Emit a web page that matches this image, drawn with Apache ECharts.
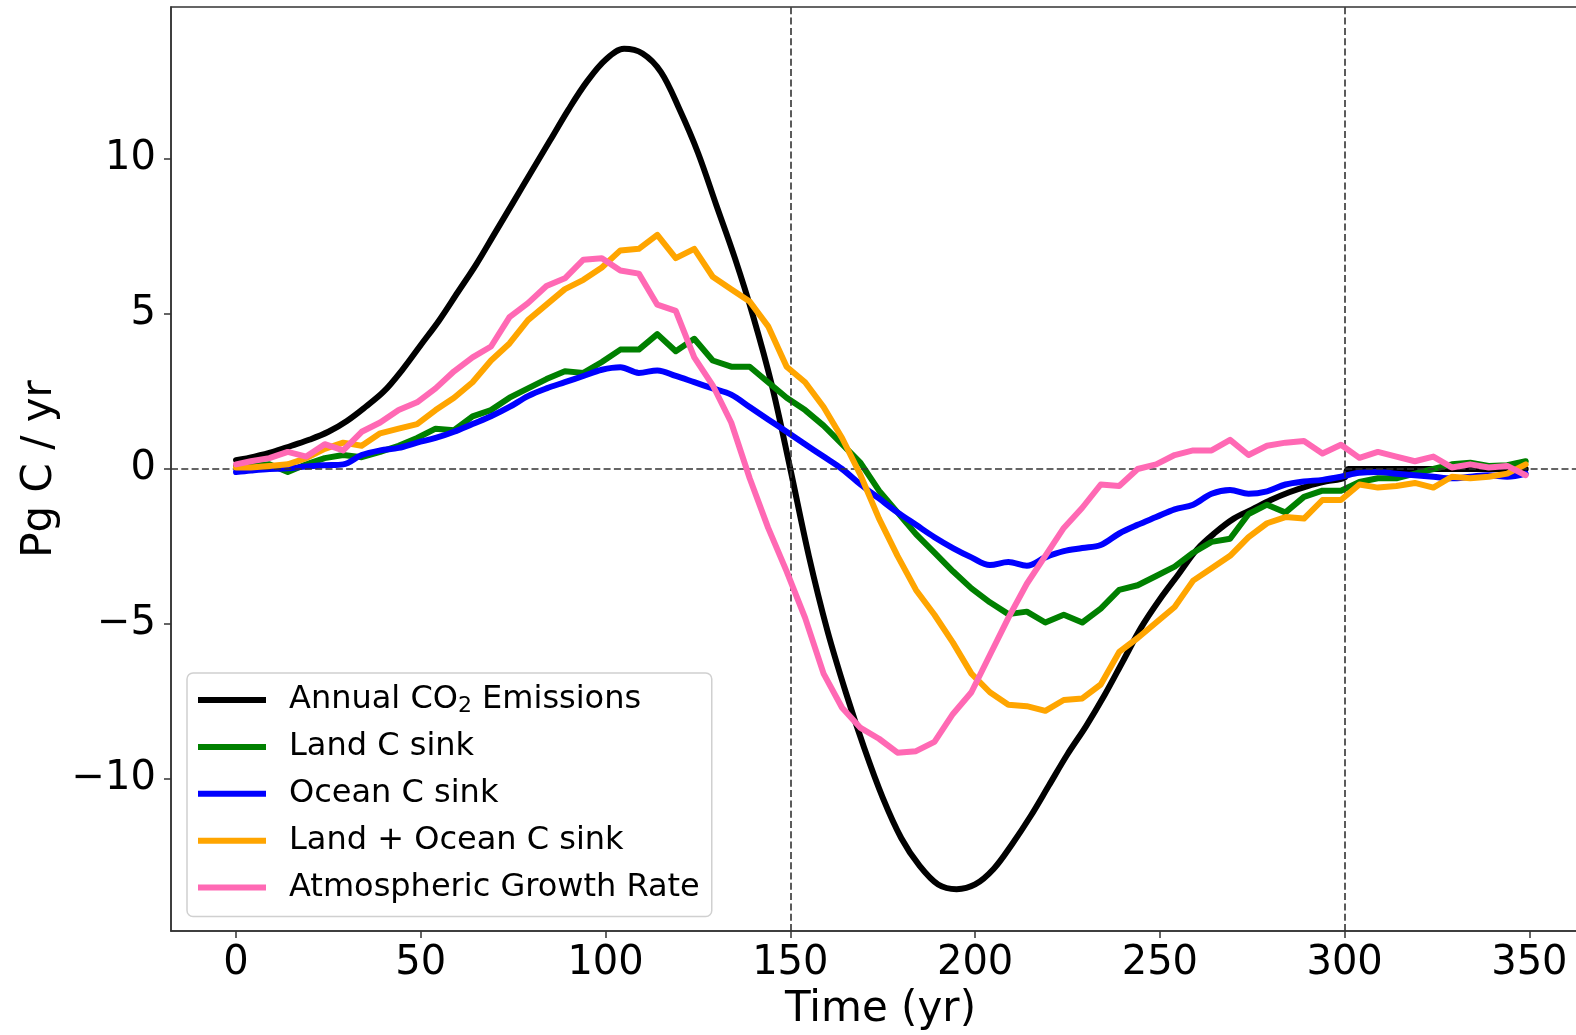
<!DOCTYPE html>
<html>
<head>
<meta charset="utf-8">
<title>Carbon fluxes</title>
<script src="https://cdn.jsdelivr.net/npm/echarts@6/dist/echarts.min.js"></script>
<style>
  html, body { margin: 0; padding: 0; background: #fff; }
  #chart { width: 1576px; height: 1035px; }
</style>
</head>
<body>
<div id="chart"></div>
<script>
// Sample years for the sink / growth-rate series
const years = [0,4,9,14,19,24,29,34,39,44,49,54,59,64,69,74,79,84,89,94,99,104,109,114,119,124,129,134,139,144,149,154,159,164,169,174,179,184,189,194,199,204,209,214,219,224,229,234,239,244,249,254,259,264,269,274,279,284,289,294,299,304,309,314,319,324,329,334,339,344,349];

// Annual CO2 emissions (smooth pulse, zero after year 300)
const emissionYears = [0,5,10,15,20,25,30,35,40,45,50,55,60,65,70,75,80,85,90,95,100,105,110,115,120,125,130,135,140,145,150,155,160,165,170,175,180,185,190,195,200,205,210,215,220,225,230,235,240,245,250,255,260,265,270,275,280,285,290,295,300,301,349];
const emissions = [0.28,0.4,0.55,0.75,0.95,1.2,1.55,2.0,2.5,3.2,4.0,4.8,5.7,6.6,7.6,8.6,9.6,10.6,11.6,12.5,13.2,13.55,13.4,12.8,11.6,10.2,8.5,6.8,4.9,2.7,0.0,-2.8,-5.2,-7.2,-9.0,-10.6,-11.9,-12.8,-13.4,-13.55,-13.4,-12.9,-12.1,-11.2,-10.2,-9.2,-8.3,-7.3,-6.2,-5.1,-4.2,-3.4,-2.6,-2.05,-1.6,-1.3,-1.0,-0.75,-0.55,-0.4,-0.28,0,0];

const landSink = [0.1,0.1,0.15,-0.1,0.15,0.35,0.45,0.38,0.55,0.75,1.0,1.3,1.25,1.7,1.9,2.3,2.6,2.9,3.15,3.1,3.45,3.85,3.85,4.35,3.8,4.2,3.5,3.3,3.3,2.8,2.3,1.9,1.4,0.8,0.2,-0.7,-1.4,-2.1,-2.7,-3.3,-3.85,-4.3,-4.68,-4.6,-4.95,-4.7,-4.95,-4.5,-3.9,-3.75,-3.45,-3.15,-2.7,-2.35,-2.25,-1.45,-1.15,-1.4,-0.9,-0.7,-0.7,-0.42,-0.3,-0.3,-0.15,0.0,0.15,0.2,0.1,0.12,0.25];

const oceanSink = [-0.1,-0.05,0.0,0.02,0.08,0.12,0.15,0.45,0.6,0.68,0.85,1.0,1.2,1.45,1.7,2.0,2.35,2.6,2.8,3.0,3.2,3.28,3.1,3.18,3.0,2.8,2.6,2.4,2.0,1.6,1.2,0.8,0.4,0.0,-0.5,-0.95,-1.4,-1.8,-2.2,-2.55,-2.85,-3.1,-3.0,-3.12,-2.85,-2.65,-2.55,-2.45,-2.08,-1.8,-1.55,-1.3,-1.15,-0.8,-0.68,-0.8,-0.72,-0.5,-0.4,-0.35,-0.25,-0.12,-0.1,-0.15,-0.2,-0.25,-0.3,-0.25,-0.2,-0.25,-0.15];

const totalSink = [0.05,0.05,0.1,0.15,0.35,0.65,0.85,0.75,1.15,1.3,1.45,1.9,2.3,2.8,3.5,4.05,4.8,5.3,5.8,6.1,6.5,7.05,7.1,7.55,6.8,7.1,6.2,5.8,5.4,4.6,3.3,2.8,2.0,1.0,-0.2,-1.6,-2.8,-3.9,-4.7,-5.6,-6.6,-7.2,-7.6,-7.65,-7.8,-7.45,-7.4,-6.95,-5.9,-5.45,-4.95,-4.45,-3.6,-3.2,-2.8,-2.2,-1.75,-1.55,-1.6,-1.0,-1.0,-0.5,-0.6,-0.55,-0.45,-0.6,-0.25,-0.3,-0.25,-0.15,0.15];

const atmGrowth = [0.15,0.25,0.35,0.55,0.4,0.8,0.6,1.2,1.5,1.9,2.15,2.6,3.15,3.6,3.95,4.9,5.35,5.9,6.15,6.75,6.8,6.4,6.3,5.3,5.1,3.6,2.7,1.5,-0.3,-1.9,-3.3,-4.8,-6.6,-7.7,-8.35,-8.7,-9.15,-9.1,-8.8,-7.9,-7.2,-6.0,-4.8,-3.7,-2.8,-1.9,-1.25,-0.5,-0.55,0.0,0.15,0.45,0.6,0.6,0.94,0.45,0.75,0.85,0.9,0.5,0.78,0.36,0.55,0.4,0.25,0.4,0.05,0.15,0.05,0.1,-0.2];

// Tick positions and reference lines
const xTicks = [0,50,100,150,200,250,300,350];
const yTicks = [-10,-5,0,5,10];
const refYears = [150,300];

const seriesNames = ['Annual CO2 Emissions','Land C sink','Ocean C sink','Land + Ocean C sink','Atmospheric Growth Rate'];
const seriesColors = ['#000000','#008000','#0000ff','#ffa500','#ff69b4'];

function pairs(xs, ys) { return xs.map((x, i) => [x, ys[i]]); }
function fmt(v) { return v < 0 ? '\u2212' + Math.abs(v) : String(v); }

const font = 'DejaVu Sans';
const chart = echarts.init(document.getElementById('chart'), null, { renderer: 'canvas' });

function lineSeries(idx, data, smooth) {
  return {
    name: seriesNames[idx],
    type: 'line',
    data: data,
    showSymbol: false,
    symbol: 'none',
    smooth: smooth ? 0.35 : false,
    lineStyle: { color: seriesColors[idx], width: 6, join: 'round', cap: 'round' },
    itemStyle: { color: seriesColors[idx] },
    z: 2 + idx,
    silent: true,
    animation: false
  };
}

const option = {
  backgroundColor: '#ffffff',
  animation: false,
  grid: {
    left: 171, top: 7, right: -14, bottom: 104,
    outerBoundsMode: 'none',
    containLabel: false,
    show: true, borderColor: '#333', borderWidth: 1.5, backgroundColor: 'transparent'
  },
  xAxis: {
    type: 'value', min: -17.6, max: 366.4,
    name: 'Time (yr)', nameLocation: 'middle', nameGap: 58,
    nameTextStyle: { fontFamily: font, fontSize: 42, color: '#000' },
    axisLine: { show: true, onZero: false, lineStyle: { color: '#333', width: 1.5 } },
    axisTick: { show: true, length: 7, customValues: xTicks, lineStyle: { color: '#333', width: 1.5 } },
    axisLabel: { customValues: xTicks, fontFamily: font, fontSize: 40, color: '#000', margin: 13, formatter: fmt },
    splitLine: { show: false }
  },
  yAxis: {
    type: 'value', min: -14.9, max: 14.9,
    name: 'Pg C / yr', nameLocation: 'middle', nameGap: 110,
    nameTextStyle: { fontFamily: font, fontSize: 42, color: '#000' },
    axisLine: { show: true, onZero: false, lineStyle: { color: '#333', width: 1.5 } },
    axisTick: { show: true, length: 7, customValues: yTicks, lineStyle: { color: '#333', width: 1.5 } },
    axisLabel: { customValues: yTicks, fontFamily: font, fontSize: 40, color: '#000', margin: 15, formatter: fmt },
    splitLine: { show: false }
  },
  legend: {
    orient: 'vertical', left: 187, top: 673,
    data: seriesNames,
    icon: 'rect', itemWidth: 68, itemHeight: 6, itemGap: 6.9,
    padding: [7, 12, 9, 11],
    backgroundColor: 'rgba(255,255,255,0.85)',
    borderColor: '#d0d0d0', borderWidth: 1.5, borderRadius: 6,
    selectedMode: false,
    textStyle: {
      fontFamily: font, fontSize: 32, color: '#000', lineHeight: 40,
      rich: {
        sp: { width: 18, fontSize: 32, lineHeight: 40 },
        t: { fontFamily: font, fontSize: 32, color: '#000', lineHeight: 40 },
        sub: { fontFamily: font, fontSize: 22, color: '#000', lineHeight: 28, padding: [12, 0, 0, 0] }
      }
    },
    formatter: function (name) {
      if (name === 'Annual CO2 Emissions') {
        return '{sp| }{t|Annual CO}{sub|2}{t| Emissions}';
      }
      return '{sp| }{t|' + name + '}';
    }
  },
  series: [
    lineSeries(0, pairs(emissionYears, emissions), true),
    lineSeries(1, pairs(years, landSink), false),
    lineSeries(2, pairs(years, oceanSink), true),
    lineSeries(3, pairs(years, totalSink), false),
    lineSeries(4, pairs(years, atmGrowth), false),
    {
      name: 'reference lines',
      type: 'line',
      data: [],
      z: 20,
      silent: true,
      markLine: {
        silent: true,
        symbol: 'none',
        animation: false,
        label: { show: false },
        lineStyle: { color: '#333', width: 1.6, type: [7, 3.3] },
        data: [{ yAxis: 0 }].concat(refYears.map(v => ({ xAxis: v })))
      }
    }
  ]
};

chart.setOption(option);
</script>
</body>
</html>
